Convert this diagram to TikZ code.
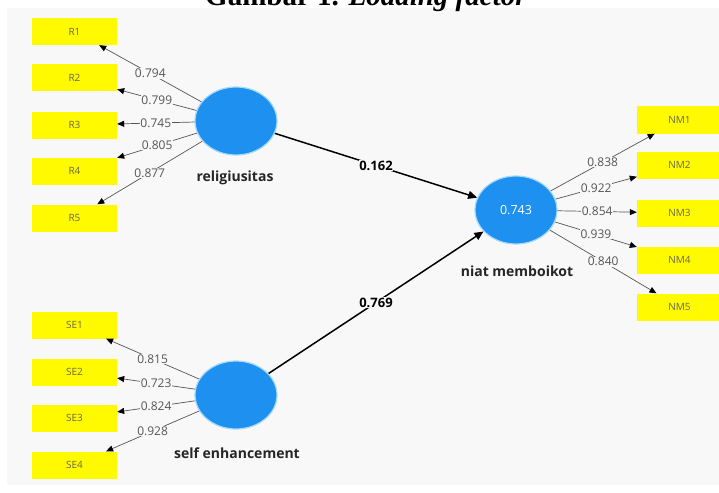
\documentclass[tikz,border=0pt]{standalone}
\usepackage{fontspec}
\setmainfont{Open Sans}
\newfontfamily\capfont{Liberation Serif}
\usetikzlibrary{arrows.meta,shapes.geometric}
\definecolor{lvblue}{RGB}{30,144,240}
\definecolor{lvhalo}{RGB}{165,218,250}
\definecolor{indyellow}{RGB}{255,250,0}
\definecolor{panelgray}{RGB}{248,248,248}
\definecolor{indtext}{RGB}{105,105,70}
\definecolor{loadgray}{RGB}{85,85,85}
\begin{document}
\begin{tikzpicture}[x=1pt,y=-1pt,line join=round,
	latent/.style={ellipse,fill=lvblue,draw=lvhalo,line width=1.2pt,minimum width=82pt,minimum height=68pt,inner sep=0pt},
	ind/.style={rectangle,fill=indyellow,minimum width=85pt,minimum height=27pt,inner sep=0pt,text=indtext,font=\fontsize{10}{11}\selectfont},
	load/.style={draw=loadgray,line width=0.7pt,-{Triangle[length=7pt,width=6pt,black]}},
	struct/.style={draw=black,line width=1.5pt,-{Triangle[length=9pt,width=8pt]}},
	val/.style={fill=panelgray,inner sep=0.6pt,text=loadgray,font=\fontsize{12}{13}\selectfont},
	pval/.style={fill=panelgray,inner sep=0.6pt,font=\bfseries\fontsize{13}{14}\selectfont},
	lvname/.style={font=\bfseries\fontsize{14}{15}\selectfont,text=black!85}]
	
	\useasboundingbox (0,0) rectangle (719,492);
	\fill[panelgray] (7,8) rectangle (719,485); % latar
	\node[anchor=base,font=\capfont\bfseries\fontsize{29}{32}\selectfont] (caption) at (366,6) {Gambar 1. \textit{Loading factor}};
	
	% konstruk laten
	\node[latent] (rel) at (236,121) {};
	\node[latent] (self) at (236,395) {};
	\node[latent,text=white,font=\fontsize{12.5}{13}\selectfont] (niat) at (516,210) {0.743};
	\node[lvname] (relname) at (235,178) {religiusitas};
	\node[lvname] (selfname) at (237,453) {self enhancement};
	\node[lvname] (niatname) at (517,271) {niat memboikot};
	
	% indikator religiusitas
	\foreach \i/\y/\v in {1/31.5/0.794,2/78/0.799,3/125/0.745,4/171/0.805,5/218/0.877}{
		\node[ind] (R\i) at (74.5,\y) {R\i};
		\draw[load] (rel) -- node[val] {\v} (R\i);
	}
	% indikator self enhancement
	\foreach \i/\y/\v in {1/325/0.815,2/372/0.723,3/418/0.824,4/465/0.928}{
		\node[ind] (SE\i) at (74.5,\y) {SE\i};
		\draw[load] (self) -- node[val] {\v} (SE\i);
	}
	% indikator niat memboikot
	\foreach \i/\y/\v in {1/120/0.838,2/165/0.922,3/213/0.854,4/260/0.939,5/307/0.840}{
		\node[ind] (NM\i) at (679.5,\y) {NM\i};
		\draw[load] (niat) -- node[val] {\v} (NM\i);
	}
	
	% jalur struktural
	\draw[struct] (rel) -- node[pval] {0.162} (niat);
	\draw[struct] (self) -- node[pval] {0.769} (niat);
\end{tikzpicture}
\end{document}
